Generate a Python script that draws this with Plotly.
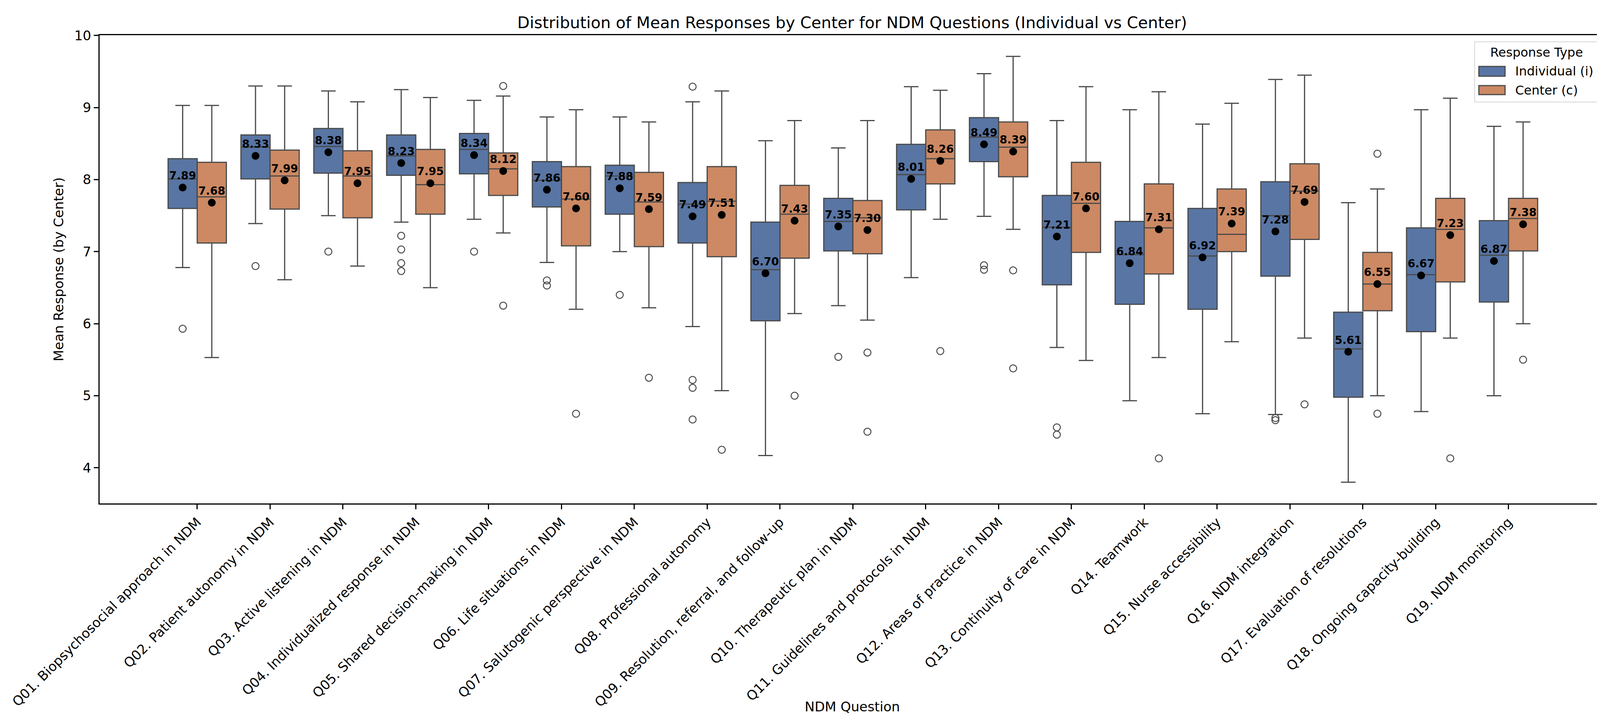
import plotly.graph_objects as go

# NDM questions (x axis)
questions = [
    "Q01. Biopsychosocial approach in NDM",
    "Q02. Patient autonomy in NDM",
    "Q03. Active listening in NDM",
    "Q04. Individualized response in NDM",
    "Q05. Shared decision-making in NDM",
    "Q06. Life situations in NDM",
    "Q07. Salutogenic perspective in NDM",
    "Q08. Professional autonomy",
    "Q09. Resolution, referral, and follow-up",
    "Q10. Therapeutic plan in NDM",
    "Q11. Guidelines and protocols in NDM",
    "Q12. Areas of practice in NDM",
    "Q13. Continuity of care in NDM",
    "Q14. Teamwork",
    "Q15. Nurse accessibility",
    "Q16. NDM integration",
    "Q17. Evaluation of resolutions",
    "Q18. Ongoing capacity-building",
    "Q19. NDM monitoring",
]

# Individual (i) box statistics
ind_low = [6.78, 7.39, 7.50, 7.41, 7.45, 6.85, 7.00, 5.96, 4.17, 6.25, 6.64, 7.49, 5.67, 4.93, 4.75, 4.74, 3.80, 4.78, 5.00]
ind_q1 = [7.60, 8.01, 8.09, 8.06, 8.08, 7.62, 7.52, 7.12, 6.04, 7.01, 7.58, 8.25, 6.54, 6.27, 6.20, 6.66, 4.98, 5.89, 6.30]
ind_med = [8.01, 8.45, 8.46, 8.33, 8.42, 7.99, 8.05, 7.66, 6.75, 7.42, 8.07, 8.59, 7.34, 6.96, 6.94, 7.50, 5.65, 6.68, 6.95]
ind_q3 = [8.29, 8.62, 8.71, 8.62, 8.64, 8.25, 8.20, 7.96, 7.41, 7.74, 8.49, 8.86, 7.78, 7.42, 7.60, 7.97, 6.16, 7.33, 7.43]
ind_high = [9.03, 9.30, 9.23, 9.25, 9.10, 8.87, 8.87, 9.08, 8.54, 8.44, 9.29, 9.47, 8.82, 8.97, 8.77, 9.39, 7.68, 8.97, 8.74]
ind_mean = [7.89, 8.33, 8.38, 8.23, 8.34, 7.86, 7.88, 7.49, 6.70, 7.35, 8.01, 8.49, 7.21, 6.84, 6.92, 7.28, 5.61, 6.67, 6.87]
ind_out = [
    [5.93], [6.80], [7.00], [7.22, 7.03, 6.84, 6.73], [7.00],
    [6.60, 6.53], [6.40], [9.29, 5.22, 5.11, 4.67], [], [5.54],
    [], [6.81, 6.75], [4.56, 4.46], [], [],
    [4.69, 4.66], [], [], [],
]

# Center (c) box statistics
cen_low = [5.53, 6.61, 6.80, 6.50, 7.26, 6.20, 6.22, 5.07, 6.14, 6.05, 7.45, 7.31, 5.49, 5.53, 5.75, 5.80, 5.00, 5.80, 6.00]
cen_q1 = [7.12, 7.59, 7.47, 7.52, 7.78, 7.08, 7.07, 6.93, 6.91, 6.97, 7.94, 8.04, 6.99, 6.69, 7.00, 7.17, 6.18, 6.58, 7.01]
cen_med = [7.76, 8.05, 8.05, 7.93, 8.15, 7.73, 7.69, 7.70, 7.52, 7.47, 8.29, 8.45, 7.67, 7.33, 7.24, 7.84, 6.55, 7.31, 7.46]
cen_q3 = [8.24, 8.41, 8.40, 8.42, 8.37, 8.18, 8.10, 8.18, 7.92, 7.71, 8.69, 8.80, 8.24, 7.94, 7.87, 8.22, 6.99, 7.74, 7.74]
cen_high = [9.03, 9.30, 9.08, 9.14, 9.16, 8.97, 8.80, 9.23, 8.82, 8.82, 9.24, 9.71, 9.29, 9.22, 9.06, 9.45, 7.87, 9.13, 8.80]
cen_mean = [7.68, 7.99, 7.95, 7.95, 8.12, 7.60, 7.59, 7.51, 7.43, 7.30, 8.26, 8.39, 7.60, 7.31, 7.39, 7.69, 6.55, 7.23, 7.38]
cen_out = [
    [], [], [], [], [9.30, 6.25],
    [4.75], [5.25], [4.25], [5.00], [5.60, 4.50],
    [5.62], [6.74, 5.38], [], [4.13], [],
    [4.88], [8.36, 4.75], [4.13], [5.50],
]

groups = [
    ("Individual (i)", "#5875a4", -0.2, ind_low, ind_q1, ind_med, ind_q3, ind_high, ind_mean, ind_out),
    ("Center (c)", "#cc8963", 0.2, cen_low, cen_q1, cen_med, cen_q3, cen_high, cen_mean, cen_out),
]

edge = "#4a4a4a"
font = "DejaVu Sans"
pos = list(range(len(questions)))

fig = go.Figure()
for name, color, off, low, q1, med, q3, high, mean, out in groups:
    xs = [p + off for p in pos]
    fig.add_trace(go.Box(
        name=name, x=xs, q1=q1, median=med, q3=q3,
        lowerfence=low, upperfence=high,
        width=0.4, whiskerwidth=0.5, boxpoints=False,
        fillcolor=color, line=dict(color=edge, width=3),
        hoverinfo="skip", showlegend=False,
    ))
    ox, oy = [], []
    for x, vals in zip(xs, out):
        for v in vals:
            ox.append(x)
            oy.append(v)
    fig.add_trace(go.Scatter(
        x=ox, y=oy, mode="markers", showlegend=False, hoverinfo="skip",
        marker=dict(symbol="circle-open", size=18, color=edge, line=dict(width=2.5, color=edge)),
    ))
    fig.add_trace(go.Scatter(
        x=xs, y=mean, mode="markers+text", showlegend=False, hoverinfo="skip",
        marker=dict(symbol="circle", size=20, color="black"),
        text=["<b>%.2f</b>" % m for m in mean], textposition="top center",
        textfont=dict(family=font, size=28, color="black"),
    ))

# legend drawn by hand so the patches look like matplotlib's
shapes = [dict(type="rect", xref="paper", yref="paper", x0=0.9136, x1=0.9958, y0=0.8573, y1=0.9858,
               line=dict(color="#d6d6d6", width=2), fillcolor="rgba(255,255,255,0.8)", layer="above")]
annotations = [
    dict(text="Response Type", xref="paper", yref="paper", x=0.9546, y=0.9633,
         xanchor="center", yanchor="middle", showarrow=False, font=dict(family=font, size=32)),
    dict(text="NDM Question", xref="paper", yref="paper", x=0.5, y=-0.434,
         xanchor="center", yanchor="middle", showarrow=False, font=dict(family=font, size=34)),
]
for (name, color, *_), y0, y1 in zip(groups, [0.9124, 0.8731], [0.9332, 0.8923]):
    shapes.append(dict(type="rect", xref="paper", yref="paper", x0=0.9164, x1=0.9338, y0=y0, y1=y1,
                       line=dict(color=edge, width=3), fillcolor=color, layer="above"))
    annotations.append(dict(text=name, xref="paper", yref="paper", x=0.9400, y=(y0 + y1) / 2,
                            xanchor="left", yanchor="middle", showarrow=False,
                            font=dict(family=font, size=32)))

fig.update_layout(
    width=4122, height=1837,
    margin=dict(l=247, r=22, t=82, b=557),
    paper_bgcolor="white", plot_bgcolor="white",
    boxmode="overlay", showlegend=False,
    font=dict(family=font, size=34, color="black"),
    title=dict(
        text="Distribution of Mean Responses by Center for NDM Questions (Individual vs Center)",
        x=0.5, xref="paper", xanchor="center", y=0.973, yanchor="middle",
        font=dict(family=font, size=41, color="black"),
    ),
    shapes=shapes,
    annotations=annotations,
)

fig.update_xaxes(
    range=[-1.34, 19.32], tickmode="array", tickvals=pos, ticktext=questions,
    tickangle=-45, ticks="outside", ticklen=12, tickwidth=2.5, tickcolor="black",
    showline=True, linecolor="black", linewidth=2.5, mirror=True,
    showgrid=False, zeroline=False, tickfont=dict(size=34),
)
fig.update_yaxes(
    range=[3.505, 10.005], tickvals=[4, 5, 6, 7, 8, 9, 10],
    ticks="outside", ticklen=12, tickwidth=2.5, tickcolor="black",
    showline=True, linecolor="black", linewidth=2.5, mirror=True,
    showgrid=False, zeroline=False, tickfont=dict(size=34),
    title=dict(text="Mean Response (by Center)", standoff=18, font=dict(size=34)),
)

fig.write_html("out.html")
